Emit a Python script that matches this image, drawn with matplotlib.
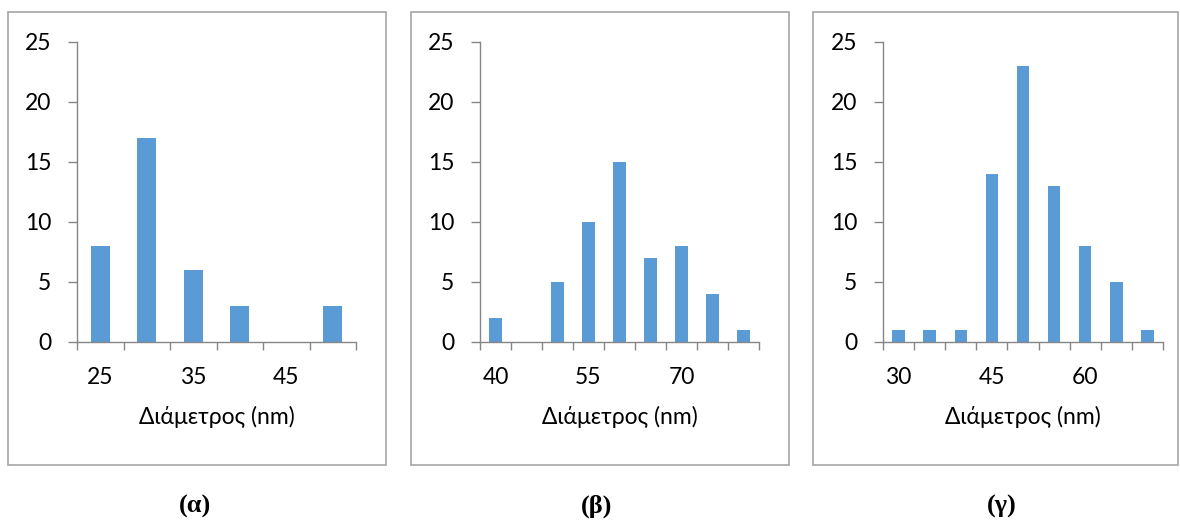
import matplotlib
matplotlib.use('Agg')
from matplotlib import pyplot as plt
from matplotlib.patches import Rectangle
import numpy as np

# data
cats_a = [25, 30, 35, 40, 45, 50]
counts_a = [8, 17, 6, 3, 0, 3]
cats_b = [40, 45, 50, 55, 60, 65, 70, 75, 80]
counts_b = [2, 0, 5, 10, 15, 7, 8, 4, 1]
cats_c = [30, 35, 40, 45, 50, 55, 60, 65, 70]
counts_c = [1, 1, 1, 14, 23, 13, 8, 5, 1]
panel_labels = ['(α)', '(β)', '(γ)']
label_step = [2, 3, 3]

W, H = 1180, 522
bar_color = '#5B9BD5'
axis_color = '#868686'
fs = 16.5

plt.rcParams['font.family'] = ['Lato', 'DejaVu Sans']

fig = plt.figure(figsize=(W / 100, H / 100), dpi=100)

frames = [(8, 386), (411, 789), (813, 1178)]
axes_x = [(77, 356), (480, 759), (883, 1163)]
label_x = [195, 597, 1002]

datasets = [(cats_a, counts_a), (cats_b, counts_b), (cats_c, counts_c)]

for i, (cats, counts) in enumerate(datasets):
    fx0, fx1 = frames[i]
    fig.add_artist(Rectangle((fx0 / W, 1 - 465 / H), (fx1 - fx0) / W, 453 / H,
                             transform=fig.transFigure, fill=False,
                             edgecolor='#A6A6A6', linewidth=1.2))
    ax0, ax1 = axes_x[i]
    ax = fig.add_axes([ax0 / W, 1 - 342 / H, (ax1 - ax0) / W, 300 / H])
    n = len(cats)
    pos = np.arange(n)
    ax.bar(pos, counts, width=0.4, color=bar_color)
    ax.set_xlim(-0.5, n - 0.5)
    ax.set_ylim(0, 25)
    ax.set_yticks([0, 5, 10, 15, 20, 25])
    for s in ['top', 'right']:
        ax.spines[s].set_visible(False)
    for s in ['left', 'bottom']:
        ax.spines[s].set_color(axis_color)
        ax.spines[s].set_linewidth(1.0)
    # tick marks on category boundaries, labels on category centres
    ax.set_xticks(np.arange(n + 1) - 0.5)
    ax.set_xticklabels([])
    ax.set_xticks(pos[::label_step[i]], minor=True)
    ax.set_xticklabels([str(c) for c in cats[::label_step[i]]], minor=True)
    ax.tick_params(axis='x', which='major', length=6, width=1, color=axis_color)
    ax.tick_params(axis='x', which='minor', length=0, pad=18, labelsize=fs)
    ax.tick_params(axis='y', length=6.5, width=1, color=axis_color, pad=12, labelsize=fs)
    ax.set_xlabel('Διάμετρος (nm)', fontsize=fs, labelpad=13)
    fig.text(label_x[i] / W, 1 - 506 / H, panel_labels[i], ha='center', va='center',
             family='Liberation Serif', fontweight='bold', fontsize=19)

plt.savefig('out.png', dpi=100)
